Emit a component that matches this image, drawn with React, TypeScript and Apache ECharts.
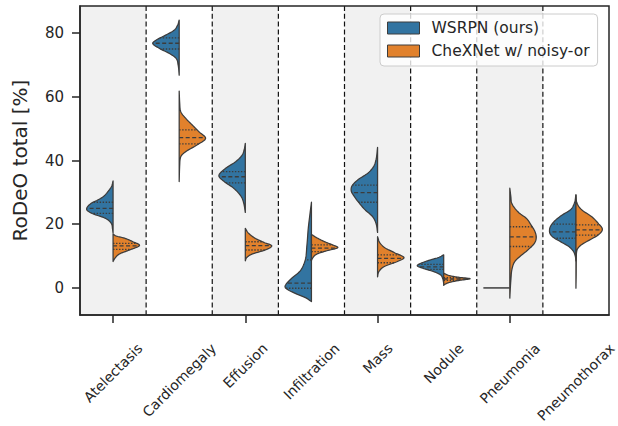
import React, { useEffect, useRef } from "react";
import * as echarts from "echarts";

const categories = ["Atelectasis", "Cardiomegaly", "Effusion", "Infiltration", "Mass", "Nodule", "Pneumonia", "Pneumothorax"];
const seriesNames = ["WSRPN (ours)", "CheXNet w/ noisy-or"];
const seriesColors = ["#3274a1", "#e1812c"];
const yTicks = [0, 20, 40, 60, 80];

// Violin outlines: [value, relative half-width], top to bottom
const wsrpnProfiles: number[][][] = [
  [[33.6, 0], [32, 0.05], [30.7, 0.15], [28.6, 0.38], [27.5, 0.6], [26.6, 0.82], [24.7, 1], [23.4, 0.8], [21.9, 0.3], [20.3, 0.07], [18.5, 0.02], [17.2, 0]],
  [[84.1, 0], [82.5, 0.06], [80.9, 0.19], [79.4, 0.5], [77.8, 0.87], [76.8, 1], [75.2, 0.75], [73.6, 0.37], [72.1, 0.12], [70, 0.04], [66.8, 0]],
  [[45.4, 0], [43.5, 0.04], [41.7, 0.12], [39.6, 0.37], [37.5, 0.75], [35.2, 1], [33.4, 0.8], [31.3, 0.44], [28.6, 0.15], [26.6, 0.06], [23.7, 0]],
  [[26.9, 0], [22.9, 0.06], [18.7, 0.12], [13.5, 0.17], [8.3, 0.25], [5.1, 0.45], [3.0, 0.75], [0.9, 0.98], [0.4, 1], [-0.1, 0.97], [-1.7, 0.62], [-3.2, 0.19], [-4.3, 0]],
  [[44.1, 0], [40.2, 0.06], [38.1, 0.15], [36, 0.37], [33.9, 0.75], [31.8, 0.98], [30.7, 1], [28.6, 0.87], [26.6, 0.69], [24.5, 0.47], [22.4, 0.19], [20.3, 0.06], [17.4, 0]],
  [[10.4, 0], [9.6, 0.18], [8.8, 0.5], [7.7, 0.87], [7, 1], [6.2, 0.8], [5.1, 0.37], [4.1, 0.12], [3, 0.04], [1.5, 0]],
  [[0, 1]],
  [[29.2, 0], [26.6, 0.06], [24.5, 0.21], [22.9, 0.52], [20.8, 0.83], [18.7, 0.99], [17.7, 1], [16.1, 0.89], [14.5, 0.58], [13, 0.27], [11.4, 0.09], [9.8, 0.02], [8.5, 0]],
];

const chexnetProfiles: number[][][] = [
  [[16.9, 0], [16.3, 0.12], [15.6, 0.44], [14.5, 0.75], [13.4, 1], [11.9, 0.62], [10.7, 0.25], [9.3, 0.07], [8.3, 0]],
  [[61.8, 0], [58, 0.02], [55.3, 0.06], [53.2, 0.25], [51.1, 0.5], [49, 0.75], [47, 1], [44.9, 0.68], [42.8, 0.25], [41.2, 0.06], [38.6, 0.02], [33.4, 0]],
  [[18.7, 0], [17.2, 0.12], [15.6, 0.37], [14.3, 0.7], [13.2, 1], [11.9, 0.75], [10.6, 0.25], [9.5, 0.05], [8.5, 0]],
  [[16.8, 0], [15.8, 0.19], [14.5, 0.5], [13.5, 0.8], [12.7, 1], [11.6, 0.55], [10.6, 0.2], [9.3, 0.04], [8.6, 0]],
  [[16.1, 0], [14, 0.1], [12.5, 0.3], [10.9, 0.68], [9.5, 1], [8.3, 0.75], [6.7, 0.25], [5.1, 0.05], [3.5, 0]],
  [[4.6, 0], [3.8, 0.25], [3.3, 0.6], [2.9, 1], [2.4, 0.62], [1.8, 0.25], [1.2, 0.06], [0.8, 0]],
  [[31.3, 0], [28.6, 0.04], [26.6, 0.07], [25, 0.19], [23.4, 0.37], [21.9, 0.62], [19.8, 0.8], [17.7, 0.95], [15.9, 1], [14, 0.93], [11.9, 0.68], [9.8, 0.37], [8.3, 0.19], [6.2, 0.09], [2.5, 0.04], [0, 0.02], [-3.2, 0]],
  [[29.2, 0], [26.6, 0.04], [24.5, 0.22], [22.4, 0.59], [20.3, 0.84], [18.4, 1], [16.6, 0.84], [15.1, 0.53], [13.5, 0.2], [11.9, 0.04], [9.8, 0.015], [5, 0.01], [-0.1, 0]],
];

// [Q1, median, Q3]
const wsrpnQuartiles: (number[] | null)[] = [
  [23.4, 25.0, 26.9], [75.0, 76.8, 78.5], [33.0, 34.9, 36.5], [-0.1, 1.5, 8.8],
  [26.9, 29.9, 32.3], [5.8, 6.6, 7.4], null, [15.6, 17.6, 20.0],
];
const chexnetQuartiles: (number[] | null)[] = [
  [12.1, 13.2, 14.0], [45.2, 47.2, 49.6], [11.9, 13.3, 14.5], [11.4, 12.5, 13.5],
  [7.9, 9.3, 10.4], [2.4, 2.8, 3.2], [13.0, 16.0, 19.2], [16.6, 18.2, 19.8],
];

const profiles = [wsrpnProfiles, chexnetProfiles];
const quartiles = [wsrpnQuartiles, chexnetQuartiles];

const FONT = "DejaVu Sans";
const TXT = "#262626";
const EDGE = "#3c3c3c";

function monotone(xs: number[], ys: number[]) {
  const n = xs.length;
  const d: number[] = [];
  for (let i = 0; i < n - 1; i++) d.push((ys[i + 1] - ys[i]) / (xs[i + 1] - xs[i]));
  const m: number[] = new Array(n).fill(0);
  m[0] = d[0];
  m[n - 1] = d[n - 2];
  for (let i = 1; i < n - 1; i++) m[i] = d[i - 1] * d[i] <= 0 ? 0 : (d[i - 1] + d[i]) / 2;
  for (let i = 0; i < n - 1; i++) {
    if (d[i] === 0) { m[i] = 0; m[i + 1] = 0; continue; }
    const a = m[i] / d[i], b = m[i + 1] / d[i];
    const s = a * a + b * b;
    if (s > 9) { const t = 3 / Math.sqrt(s); m[i] = t * a * d[i]; m[i + 1] = t * b * d[i]; }
  }
  return (x: number) => {
    if (x <= xs[0]) return ys[0];
    if (x >= xs[n - 1]) return ys[n - 1];
    let k = 0;
    while (k < n - 2 && x > xs[k + 1]) k++;
    const h = xs[k + 1] - xs[k];
    const t = (x - xs[k]) / h;
    const t2 = t * t, t3 = t2 * t;
    return (2 * t3 - 3 * t2 + 1) * ys[k] + (t3 - 2 * t2 + t) * h * m[k] + (-2 * t3 + 3 * t2) * ys[k + 1] + (t3 - t2) * h * m[k + 1];
  };
}

function makeViolinRender(h: number) {
  return (params: any, api: any) => {
    const i = api.value(0);
    const prof = profiles[h][i];
    const q = quartiles[h][i];
    const cx = api.coord([i, 0])[0];
    const halfW = api.size([1, 0])[0] * 0.4;
    const sign = h === 0 ? -1 : 1;
    const children: any[] = [];
    if (prof.length === 1) {
      const y = api.coord([i, prof[0][0]])[1];
      children.push({
        type: "line",
        shape: { x1: cx, y1: y, x2: cx + sign * prof[0][1] * halfW, y2: y },
        style: { stroke: EDGE, lineWidth: 1.5 },
      });
      return { type: "group", children };
    }
    const asc = prof.slice().reverse();
    const xs = asc.map((p) => p[0]);
    const ws = asc.map((p) => p[1]);
    const f = monotone(xs, ws);
    const vmin = xs[0], vmax = xs[xs.length - 1];
    const steps = 80;
    const pts: number[][] = [[cx, api.coord([i, vmax])[1]]];
    for (let s = 0; s <= steps; s++) {
      const v = vmax - ((vmax - vmin) * s) / steps;
      const w = Math.max(0, f(v));
      pts.push([cx + sign * w * halfW, api.coord([i, v])[1]]);
    }
    pts.push([cx, api.coord([i, vmin])[1]]);
    children.push({
      type: "polygon",
      shape: { points: pts },
      style: { fill: seriesColors[h], stroke: EDGE, lineWidth: 1.25, lineJoin: "round" },
    });
    if (q) {
      q.forEach((val, k) => {
        const w = Math.max(0, f(val));
        const y = api.coord([i, val])[1];
        children.push({
          type: "line",
          shape: { x1: cx, y1: y, x2: cx + sign * w * halfW, y2: y },
          style: {
            stroke: EDGE,
            lineWidth: 1.3,
            lineDash: k === 1 ? [4, 2.5] : [1.4, 1.6],
          },
        });
      });
    }
    return { type: "group", children };
  };
}

let measureCtx: CanvasRenderingContext2D | null = null;
function textWidth(text: string, size: number) {
  if (!measureCtx) measureCtx = document.createElement("canvas").getContext("2d");
  if (!measureCtx) return text.length * size * 0.6;
  measureCtx.font = `${size}px "${FONT}"`;
  return measureCtx.measureText(text).width;
}

const X_LABEL_SIZE = 14;

export default function App() {
  const ref = useRef<HTMLDivElement>(null);
  useEffect(() => {
    if (!ref.current) return;
    const chart = echarts.init(ref.current, undefined, { renderer: "svg" });
    const idx = categories.map((_, i) => [i, 0]);
    const option: any = {
      animation: false,
      grid: { left: 80, right: 9, top: 6, bottom: 111, show: true, borderColor: TXT, borderWidth: 1.5, backgroundColor: "transparent", z: 5 },
      xAxis: {
        type: "category",
        data: categories,
        z: 5,
        axisLine: { onZero: false, lineStyle: { color: TXT, width: 1.5 } },
        axisTick: { show: true, alignWithLabel: true, length: 8, lineStyle: { color: TXT, width: 1.5 } },
        axisLabel: { show: false },
        splitLine: { show: false },
      },
      yAxis: {
        type: "value",
        min: -8.5,
        max: 88.5,
        z: 5,
        name: "RoDeO total [%]",
        nameLocation: "middle",
        nameGap: 50,
        nameTextStyle: { fontSize: 20, fontFamily: FONT, color: TXT },
        axisLine: { show: true, lineStyle: { color: TXT, width: 1.5 } },
        axisTick: { show: true, customValues: yTicks, length: 8, lineStyle: { color: TXT, width: 1.5 } },
        axisLabel: { customValues: yTicks, fontSize: 15, fontFamily: FONT, color: TXT, margin: 16 },
        splitLine: { show: false },
      },
      legend: {
        orient: "vertical",
        left: 380,
        top: 14,
        data: seriesNames.map((n, k) => ({
          name: n,
          itemStyle: { color: seriesColors[k], borderColor: EDGE, borderWidth: 1 },
        })),
        icon: "rect",
        itemWidth: 32,
        itemHeight: 12,
        itemGap: 5,
        padding: [5, 8, 6, 7],
        borderColor: "#cccccc",
        borderWidth: 1,
        borderRadius: 4,
        backgroundColor: "rgba(255,255,255,0.8)",
        textStyle: { fontSize: 15.5, fontFamily: FONT, color: TXT, lineHeight: 18, padding: [0, 0, 0, 7] },
      },
      series: [
        {
          type: "custom",
          name: "_bg",
          z: 1,
          silent: true,
          data: idx,
          encode: { x: 0, y: 1 },
          renderItem: (params: any, api: any) => {
            const i = api.value(0);
            const cx = api.coord([i, 0])[0];
            const bw = api.size([1, 0])[0];
            const cs = params.coordSys;
            const children: any[] = [];
            if (i % 2 === 0) {
              children.push({ type: "rect", shape: { x: cx - bw / 2, y: cs.y, width: bw, height: cs.height }, style: { fill: "#f1f1f1" } });
            }
            return { type: "group", children };
          },
        },
        {
          type: "custom",
          name: "_dividers",
          z: 1.5,
          silent: true,
          data: idx.slice(0, categories.length - 1),
          encode: { x: 0, y: 1 },
          renderItem: (params: any, api: any) => {
            const i = api.value(0);
            const cx = api.coord([i, 0])[0];
            const bw = api.size([1, 0])[0];
            const cs = params.coordSys;
            return {
              type: "line",
              shape: { x1: cx + bw / 2, y1: cs.y, x2: cx + bw / 2, y2: cs.y + cs.height },
              style: { stroke: "#111111", lineWidth: 1.2, lineDash: [5, 2.8] },
            };
          },
        },
        {
          type: "custom",
          name: seriesNames[0],
          z: 2,
          itemStyle: { color: seriesColors[0] },
          data: idx,
          encode: { x: 0, y: 1 },
          renderItem: makeViolinRender(0),
        },
        {
          type: "custom",
          name: seriesNames[1],
          z: 2,
          itemStyle: { color: seriesColors[1] },
          data: idx,
          encode: { x: 0, y: 1 },
          renderItem: makeViolinRender(1),
        },
        {
          type: "custom",
          name: "_labels",
          z: 3,
          silent: true,
          clip: false,
          data: idx,
          encode: { x: 0, y: 1 },
          renderItem: (params: any, api: any) => {
            const i = api.value(0);
            const text = categories[i];
            const cx = api.coord([i, 0])[0];
            const bottom = params.coordSys.y + params.coordSys.height;
            const L = textWidth(text, X_LABEL_SIZE);
            const h = X_LABEL_SIZE * 1.17;
            const bboxH = 0.7071 * (L + h);
            return {
              type: "text",
              x: cx,
              y: bottom + 25 + bboxH / 2,
              rotation: Math.PI / 4,
              style: {
                text,
                fontSize: X_LABEL_SIZE,
                fontFamily: FONT,
                fill: TXT,
                align: "center",
                verticalAlign: "middle",
              },
            };
          },
        },
      ],
    };
    chart.setOption(option);
    return () => chart.dispose();
  }, []);
  return <div ref={ref} style={{ width: 618, height: 426, position: "absolute", left: 0, top: 0 }} />;
}
